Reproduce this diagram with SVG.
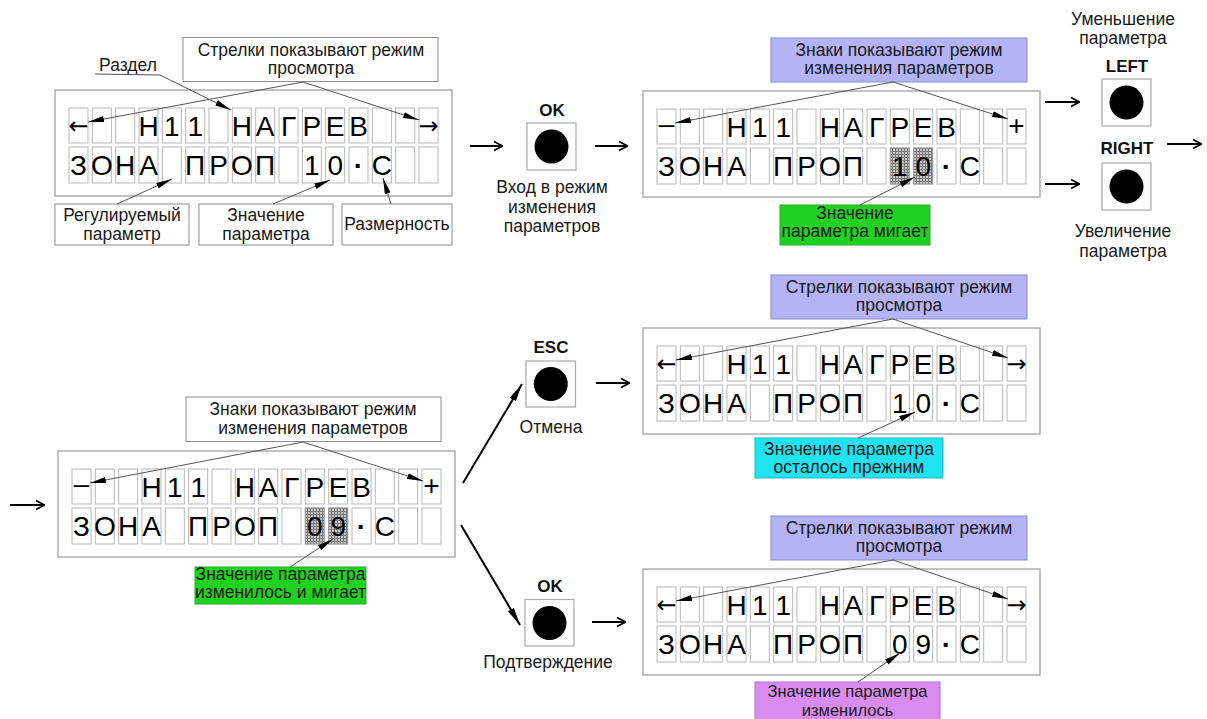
<svg xmlns="http://www.w3.org/2000/svg" xmlns:xlink="http://www.w3.org/1999/xlink" width="1207" height="719" viewBox="0 0 1207 719">
<style>
.t{font-family:"Liberation Sans",Arial,sans-serif;font-size:17.5px;fill:#1a1a1a;text-anchor:middle}
.s{font-size:16.5px}
.b{font-weight:bold;fill:#111;font-size:17px}
.g{font-family:"Liberation Sans",Arial,sans-serif;font-size:28px;fill:#000;text-anchor:middle}
.ar{font-family:"DejaVu Sans","Liberation Sans",sans-serif;font-size:24px;fill:#000;text-anchor:middle}
.box{fill:#fff;stroke:#9a9a9a;stroke-width:1.2}
.cell{fill:#fff;stroke:#b8b8b8;stroke-width:1}
.cb{fill:#fff;stroke:#8c8c8c;stroke-width:1}
.lav{fill:#b3b3f6;stroke:#8c8cc4;stroke-width:1}
.grn{fill:#1fd21f;stroke:#2fa82f;stroke-width:1}
.cyn{fill:#1ee4f0;stroke:#22b8c4;stroke-width:1}
.mag{fill:#d98cf0;stroke:#b070c8;stroke-width:1}
.btn{fill:#fff;stroke:#aaa;stroke-width:1.2}
.ld{fill:none;stroke:#555;stroke-width:1;marker-end:url(#ah)}
.fl{fill:none;stroke:#000;stroke-width:2;marker-end:url(#oa)}
.dg{fill:none;stroke:#000;stroke-width:2;marker-end:url(#fa)}
.hl{fill:url(#mesh);stroke:#999;stroke-width:1}
</style>
<defs>
<marker id="ah" viewBox="0 0 16 6" refX="16" refY="3" markerWidth="16" markerHeight="6" orient="auto" markerUnits="userSpaceOnUse"><path d="M0,0 L16,3 L0,6 Z" fill="#000"/></marker>
<marker id="oa" viewBox="0 0 10 12" refX="10" refY="6" markerWidth="10" markerHeight="12" orient="auto" markerUnits="userSpaceOnUse"><path d="M1,1.5 L9.5,6 L1,10.5" fill="none" stroke="#000" stroke-width="1.6"/></marker>
<marker id="fa" viewBox="0 0 18 7" refX="18" refY="3.5" markerWidth="18" markerHeight="7" orient="auto" markerUnits="userSpaceOnUse"><path d="M0,0 L18,3.5 L0,7 Z" fill="#000"/></marker>
<pattern id="mesh" width="3" height="3" patternUnits="userSpaceOnUse"><rect width="3" height="3" fill="#c4c4c4"/><path d="M0,0.5H3M0.5,0V3" stroke="#7a7a7a" stroke-width="1"/></pattern>
<g id="lcd">
<rect class="box" x="0" y="0" width="397" height="106"/>
<g class="cell">
<rect x="14" y="18" width="19" height="35"/><rect x="37.33" y="18" width="19" height="35"/><rect x="60.67" y="18" width="19" height="35"/><rect x="84" y="18" width="19" height="35"/><rect x="107.33" y="18" width="19" height="35"/><rect x="130.67" y="18" width="19" height="35"/><rect x="154" y="18" width="19" height="35"/><rect x="177.33" y="18" width="19" height="35"/><rect x="200.67" y="18" width="19" height="35"/><rect x="224" y="18" width="19" height="35"/><rect x="247.33" y="18" width="19" height="35"/><rect x="270.67" y="18" width="19" height="35"/><rect x="294" y="18" width="19" height="35"/><rect x="317.33" y="18" width="19" height="35"/><rect x="340.67" y="18" width="19" height="35"/><rect x="364" y="18" width="19" height="35"/>
<rect x="14" y="57" width="19" height="36"/><rect x="37.33" y="57" width="19" height="36"/><rect x="60.67" y="57" width="19" height="36"/><rect x="84" y="57" width="19" height="36"/><rect x="107.33" y="57" width="19" height="36"/><rect x="130.67" y="57" width="19" height="36"/><rect x="154" y="57" width="19" height="36"/><rect x="177.33" y="57" width="19" height="36"/><rect x="200.67" y="57" width="19" height="36"/><rect x="224" y="57" width="19" height="36"/><rect x="247.33" y="57" width="19" height="36"/><rect x="270.67" y="57" width="19" height="36"/><rect x="294" y="57" width="19" height="36"/><rect x="317.33" y="57" width="19" height="36"/><rect x="340.67" y="57" width="19" height="36"/><rect x="364" y="57" width="19" height="36"/>
</g>
</g>
</defs>
<rect width="1207" height="719" fill="#fff"/>

<!-- Display 1 -->
<g id="display1" transform="translate(55,90)">
<use xlink:href="#lcd" href="#lcd"/>
<text class="ar" x="23.5" y="44">←</text>
<text class="g" x="93.5 116.83 140.17 163.5 186.83 210.17 233.5 256.83 280.17 303.5" y="45.5">Н11 НАГРЕВ</text>
<text class="ar" x="373.5" y="44">→</text>
<text class="g" x="23.5 46.83 70.17 93.5 116.83 140.17 163.5 186.83 210.17 233.5 256.83 280.17 303.5 326.83" y="85">ЗОНА ПРОП 10<tspan font-weight="bold">·</tspan>С</text>
</g>

<!-- Display 2 -->
<g id="display2" transform="translate(643,91)">
<use xlink:href="#lcd" href="#lcd"/>
<rect class="hl" x="247.33" y="57" width="19" height="36"/>
<rect class="hl" x="270.67" y="57" width="19" height="36"/>
<text class="g" x="23.5" y="42">–</text>
<text class="g" x="93.5 116.83 140.17 163.5 186.83 210.17 233.5 256.83 280.17 303.5" y="45.5">Н11 НАГРЕВ</text>
<text class="g" x="373.5" y="44">+</text>
<text class="g" x="23.5 46.83 70.17 93.5 116.83 140.17 163.5 186.83 210.17 233.5 256.83 280.17 303.5 326.83" y="85">ЗОНА ПРОП 10<tspan font-weight="bold">·</tspan>С</text>
</g>

<!-- Display 3 -->
<g id="display3" transform="translate(58,451)">
<use xlink:href="#lcd" href="#lcd"/>
<rect class="hl" x="247.33" y="57" width="19" height="36"/>
<rect class="hl" x="270.67" y="57" width="19" height="36"/>
<text class="g" x="23.5" y="42">–</text>
<text class="g" x="93.5 116.83 140.17 163.5 186.83 210.17 233.5 256.83 280.17 303.5" y="45.5">Н11 НАГРЕВ</text>
<text class="g" x="373.5" y="44">+</text>
<text class="g" x="23.5 46.83 70.17 93.5 116.83 140.17 163.5 186.83 210.17 233.5 256.83 280.17 303.5 326.83" y="85">ЗОНА ПРОП 09<tspan font-weight="bold">·</tspan>С</text>
</g>

<!-- Display 4 -->
<g id="display4" transform="translate(643,328)">
<use xlink:href="#lcd" href="#lcd"/>
<text class="ar" x="23.5" y="44">←</text>
<text class="g" x="93.5 116.83 140.17 163.5 186.83 210.17 233.5 256.83 280.17 303.5" y="45.5">Н11 НАГРЕВ</text>
<text class="ar" x="373.5" y="44">→</text>
<text class="g" x="23.5 46.83 70.17 93.5 116.83 140.17 163.5 186.83 210.17 233.5 256.83 280.17 303.5 326.83" y="85">ЗОНА ПРОП 10<tspan font-weight="bold">·</tspan>С</text>
</g>

<!-- Display 5 -->
<g id="display5" transform="translate(643,569)">
<use xlink:href="#lcd" href="#lcd"/>
<text class="ar" x="23.5" y="44">←</text>
<text class="g" x="93.5 116.83 140.17 163.5 186.83 210.17 233.5 256.83 280.17 303.5" y="45.5">Н11 НАГРЕВ</text>
<text class="ar" x="373.5" y="44">→</text>
<text class="g" x="23.5 46.83 70.17 93.5 116.83 140.17 163.5 186.83 210.17 233.5 256.83 280.17 303.5 326.83" y="85">ЗОНА ПРОП 09<tspan font-weight="bold">·</tspan>С</text>
</g>

<!-- Callouts -->
<g id="callout1">
<rect class="cb" x="183" y="37.5" width="255" height="44"/>
<text class="t" x="311" y="55.5">Стрелки показывают режим</text>
<text class="t" x="311" y="73.5">просмотра</text>
</g>
<g id="label-razdel"><text class="t" x="128" y="71">Раздел</text></g>
<g id="callout-reg">
<rect class="cb" x="55" y="204" width="134" height="41"/>
<text class="t" x="122" y="221">Регулируемый</text>
<text class="t" x="122" y="240">параметр</text>
</g>
<g id="callout-val">
<rect class="cb" x="199" y="204" width="134" height="41"/>
<text class="t" x="266" y="221">Значение</text>
<text class="t" x="266" y="240">параметра</text>
</g>
<g id="callout-dim">
<rect class="cb" x="342" y="204" width="110" height="41"/>
<text class="t" x="397" y="230">Размерность</text>
</g>
<g id="callout2">
<rect class="lav" x="771" y="38" width="256" height="44"/>
<text class="t" x="899" y="56">Знаки показывают режим</text>
<text class="t" x="899" y="74">изменения параметров</text>
</g>
<g id="callout2g">
<rect class="grn" x="780" y="205" width="150" height="40"/>
<text class="t" x="855" y="218.5">Значение</text>
<text class="t" x="855" y="236.5">параметра мигает</text>
</g>
<g id="callout3">
<rect class="cb" x="186" y="397" width="255" height="44.5"/>
<text class="t" x="313" y="415">Знаки показывают режим</text>
<text class="t" x="313" y="433.5">изменения параметров</text>
</g>
<g id="callout3g">
<rect class="grn" x="195" y="567" width="171" height="37"/>
<text class="t" x="280.5" y="579.5">Значение параметра</text>
<text class="t" x="280.5" y="598">изменилось и мигает</text>
</g>
<g id="callout4">
<rect class="lav" x="771" y="275" width="256" height="44"/>
<text class="t" x="899" y="293">Стрелки показывают режим</text>
<text class="t" x="899" y="311">просмотра</text>
</g>
<g id="callout4c">
<rect class="cyn" x="755" y="438" width="188" height="40"/>
<text class="t" x="849" y="455">Значение параметра</text>
<text class="t" x="849" y="473">осталось прежним</text>
</g>
<g id="callout5">
<rect class="lav" x="771" y="516" width="256" height="44"/>
<text class="t" x="899" y="534">Стрелки показывают режим</text>
<text class="t" x="899" y="552">просмотра</text>
</g>
<g id="callout5m">
<rect class="mag" x="755" y="682" width="185" height="38"/>
<text class="t s" x="847.5" y="697">Значение параметра</text>
<text class="t s" x="847.5" y="716">изменилось</text>
</g>

<!-- Buttons -->
<g id="btn-ok1">
<text class="t b" x="552" y="115.5">OK</text>
<rect class="btn" x="527" y="123" width="49" height="47"/>
<circle cx="551.5" cy="146.5" r="17" fill="#000"/>
<text class="t" x="552" y="193">Вход в режим</text>
<text class="t" x="552" y="212.5">изменения</text>
<text class="t" x="552" y="232">параметров</text>
</g>
<g id="btn-left">
<text class="t" x="1123" y="24.5">Уменьшение</text>
<text class="t" x="1123" y="44">параметра</text>
<text class="t b" x="1127" y="71.5">LEFT</text>
<rect class="btn" x="1102" y="79" width="49" height="47"/>
<circle cx="1126.5" cy="102.5" r="17" fill="#000"/>
</g>
<g id="btn-right">
<text class="t b" x="1127" y="154">RIGHT</text>
<rect class="btn" x="1102" y="163" width="49" height="47"/>
<circle cx="1126.5" cy="186.5" r="17" fill="#000"/>
<text class="t" x="1123" y="237">Увеличение</text>
<text class="t" x="1123" y="256.5">параметра</text>
</g>
<g id="btn-esc">
<text class="t b" x="551" y="352.5">ESC</text>
<rect class="btn" x="526" y="361" width="49.5" height="46"/>
<circle cx="550.8" cy="384" r="17" fill="#000"/>
<text class="t" x="551" y="433">Отмена</text>
</g>
<g id="btn-ok2">
<text class="t b" x="550" y="592">OK</text>
<rect class="btn" x="525" y="599.5" width="49" height="46.5"/>
<circle cx="549.5" cy="623" r="17" fill="#000"/>
<text class="t" x="548" y="668">Подтверждение</text>
</g>

<!-- Connectors -->
<g id="connectors">
<line class="fl" x1="470" y1="146" x2="503" y2="146"/>
<line class="fl" x1="595" y1="146" x2="628" y2="146"/>
<line class="fl" x1="1045" y1="102" x2="1080" y2="102"/>
<line class="fl" x1="1045" y1="184" x2="1080" y2="184"/>
<line class="fl" x1="1167" y1="144" x2="1202" y2="144"/>
<line class="fl" x1="10" y1="505" x2="45" y2="505"/>
<line class="dg" x1="463" y1="483" x2="522" y2="384"/>
<line class="dg" x1="461" y1="525" x2="520" y2="625"/>
<line class="fl" x1="596" y1="383" x2="630" y2="383"/>
<line class="fl" x1="592" y1="622" x2="626" y2="622"/>
<line class="ld" x1="303" y1="82" x2="88" y2="122"/>
<line class="ld" x1="303" y1="82" x2="419" y2="120"/>
<polyline class="ld" points="95,74 160,75 231,110"/>
<line class="ld" x1="117" y1="204" x2="172" y2="179"/>
<line class="ld" x1="273" y1="204" x2="330" y2="180"/>
<line class="ld" x1="391" y1="204" x2="383" y2="178"/>
<line class="ld" x1="893" y1="82" x2="675" y2="123"/>
<line class="ld" x1="893" y1="82" x2="1008" y2="119"/>
<line class="ld" x1="860" y1="205" x2="915" y2="177"/>
<line class="ld" x1="303" y1="442" x2="90" y2="483"/>
<line class="ld" x1="303" y1="442" x2="423" y2="481"/>
<line class="ld" x1="290" y1="567" x2="333" y2="539"/>
<line class="ld" x1="893" y1="319" x2="676" y2="360"/>
<line class="ld" x1="893" y1="319" x2="1008" y2="358"/>
<line class="ld" x1="858" y1="438" x2="915" y2="412"/>
<line class="ld" x1="893" y1="560" x2="676" y2="601"/>
<line class="ld" x1="893" y1="560" x2="1008" y2="599"/>
<line class="ld" x1="858" y1="682" x2="900" y2="653"/>
</g>
</svg>
